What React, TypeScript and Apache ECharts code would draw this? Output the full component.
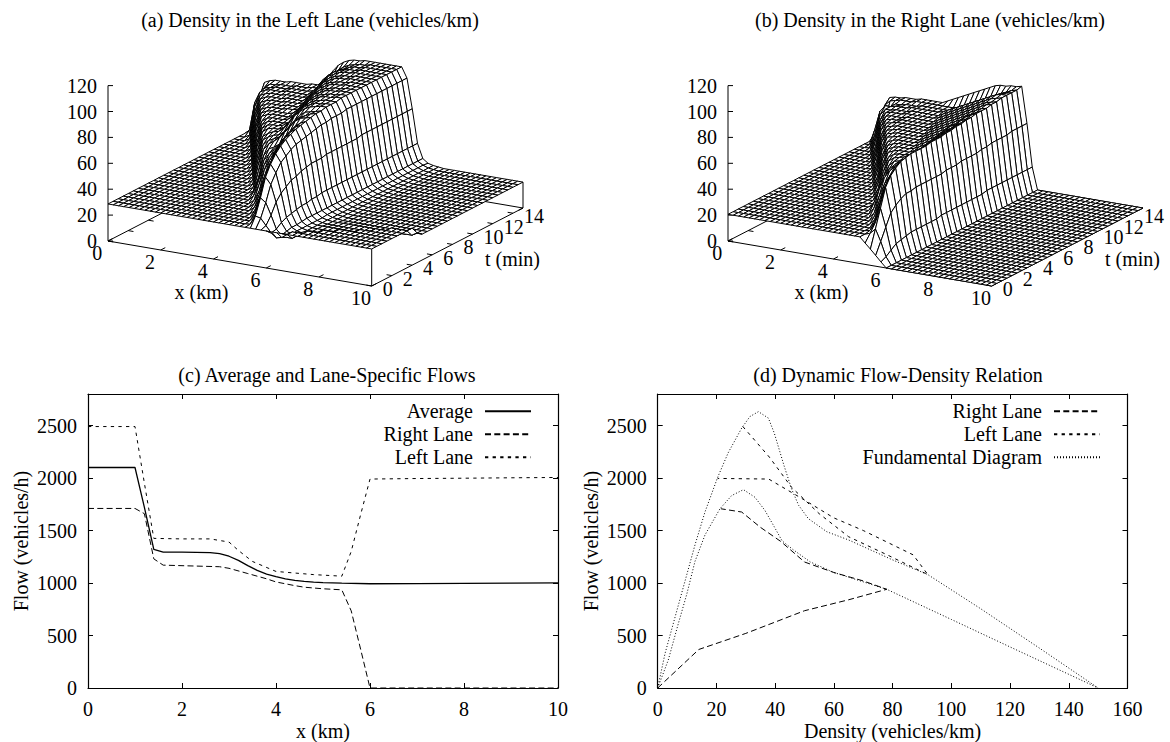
import React, { useEffect, useRef } from "react";
import * as echarts from "echarts";

const FONT = '"Liberation Serif"';

// ---------- 3D surfaces: density (vehicles/km) on x = 0..10 km (0.2 km step), t = 0..15 min (0.5 min step)
const xStep = 0.2;
const tStep = 0.5;
const xCount = 51;
const tCount = 31;
const zTicks = [0, 20, 40, 60, 80, 100, 120];
const xTicks3d = [0, 2, 4, 6, 8, 10];
const tTicks = [0, 2, 4, 6, 8, 10, 12, 14];

const leftUpstream = 28.6;
const leftDownstream = 20;
const leftEarlyStart = [51, 26, 25, 25, 24, 23, 22, 21, 20, 19];
const leftEarlyRows: number[][] = [
  [],
  [29, 36, 35, 30, 25, 22, 23, 26],
  [29, 34, 48, 45, 36, 26, 22, 21, 21, 24, 27],
  [33, 46, 62, 57, 44, 29, 23, 21.5, 21, 21, 21, 23, 26],
  [32, 42, 58, 70, 64, 49, 31, 24, 22, 21, 21, 21, 21, 21, 23, 26],
  [32, 40, 52, 66, 76, 70, 52, 32, 24, 22, 21, 21, 21, 21, 21, 21, 21, 21, 23, 26],
  [32, 40, 52, 64, 74, 80, 73, 55, 33, 24.5, 22, 21, 21, 21, 21, 21, 21, 21, 21, 21, 21, 23, 26],
  [32, 40, 52, 62, 71, 78, 83, 76, 56, 34, 25, 22, 21, 21, 21, 21, 21, 21, 21, 21, 21, 21, 21, 21, 23, 26],
  [33, 42, 54, 62, 69, 76, 82, 85, 78, 58, 34, 25, 22, 21, 20.5, 20.5, 20.5, 20.5, 20.5, 20.5, 20.5, 20.5, 20.5, 20.5, 20.5, 20.5, 20.5, 20.5, 23, 26],
  [33, 43, 55, 62, 67, 74, 80, 84, 87, 79, 59, 35, 25, 22, 21, 20.5, 20.5, 20.5, 20.5, 20.5, 20.5, 20.5, 20.5, 20.5, 20.5, 20.5, 20.5, 20.5, 20.5, 20.5, 20.5, 23],
];
const leftLateRows: number[][] = [
  [31, 42, 56, 62, 66, 71, 77, 82, 86, 88, 80, 60, 35, 25, 22.5, 21, 20.5, 20],
  [31, 44, 57, 63, 65, 68, 73, 79, 84, 87, 89, 81, 60, 36, 25, 22.5, 21, 20.5, 20],
  [31, 46, 59, 64, 67, 70, 75, 80, 85, 88, 89, 90, 82, 60, 36, 25, 22.5, 21, 20.5, 20],
  [31, 47, 60, 64, 66, 68, 72, 77, 82, 86, 88, 90, 91, 83, 61, 36, 25, 22.5, 21, 20.5, 20],
  [31, 48, 61, 64, 66, 67, 70, 75, 80, 85, 88, 89, 90, 91, 83, 61, 36, 25, 22.5, 21, 20.5, 20],
  [31, 49, 61, 64, 66, 67, 70, 75, 81, 85, 88, 90, 91, 92, 92, 84, 61, 36, 25, 22.5, 21, 20.5, 20],
  [31, 50, 62, 65, 66, 66, 68, 72, 78, 83, 87, 89, 91, 91, 92, 92, 84, 61, 36, 25, 22.5, 21, 20.5, 20],
  [31, 50, 62, 65, 66, 66, 67, 70, 75, 81, 85, 88, 90, 91, 92, 92, 92, 84, 61, 36, 25, 22.5, 21, 20.5, 20],
  [31, 51, 62, 65, 66, 66, 66, 67, 72, 78, 83, 87, 89, 91, 92, 92, 93, 93, 85, 61, 36, 25, 22.5, 21, 20.5, 20],
  [31, 51, 62, 65, 66, 66, 66, 67, 70, 75, 81, 85, 88, 90, 91, 92, 92, 93, 93, 85, 61, 36, 25, 22.5, 21, 20.5, 20],
  [31, 52, 63, 65, 66, 66, 66, 66, 68, 72, 78, 83, 87, 89, 91, 92, 92, 93, 93, 93, 85, 62, 36, 25, 22.5, 21, 20.5, 20],
  [31, 52, 63, 65, 66, 66, 66, 66, 67, 70, 75, 81, 85, 88, 90, 91, 92, 92, 93, 93, 93, 85, 62, 36, 25, 22.5, 21, 20.5, 20],
  [31, 52, 63, 65, 66, 66, 66, 67, 67, 68, 72, 78, 83, 87, 89, 91, 92, 92, 93, 93, 93, 93, 85, 62, 36, 25, 22.5, 21, 20.5, 20],
  [31, 53, 63, 65, 66, 66, 66, 67, 67, 67, 70, 75, 81, 85, 88, 90, 91, 92, 92, 93, 93, 93, 93, 85, 62, 36, 25, 22.5, 21, 20.5, 20],
  [31, 53, 63, 65, 66, 66, 66, 67, 67, 67, 68, 72, 78, 83, 87, 89, 91, 92, 92, 93, 93, 93, 93, 93, 85, 62, 36, 25, 22.5, 21, 20.5, 20],
  [31, 53, 63, 65, 66, 66, 66, 67, 67, 67, 67, 70, 75, 81, 85, 88, 90, 91, 92, 92, 93, 93, 93, 93, 93, 85, 62, 36, 25, 22.5, 21, 20.5, 20],
  [31, 54, 63, 65, 66, 66, 66, 67, 67, 67, 67, 68, 72, 78, 83, 87, 89, 91, 92, 92, 93, 93, 93, 93, 93, 93, 85, 62, 36, 25, 22.5, 21, 20.5, 20],
  [32, 54, 63, 65, 66, 66, 66, 67, 67, 67, 67, 67, 70, 75, 81, 85, 88, 90, 91, 92, 92, 93, 93, 93, 93, 93, 93, 85, 62, 36, 25, 22.5, 21, 20.5, 20],
  [36, 57, 64, 65, 66, 66, 66, 67, 67, 67, 67, 68, 68, 72, 78, 83, 87, 89, 91, 92, 92, 93, 93, 93, 93, 93, 93, 85, 62, 36, 25, 22.5, 21, 20.5, 20],
  [38, 54, 62, 65, 65, 66, 66, 66, 67, 67, 67, 68, 68, 70, 75, 81, 85, 88, 90, 91, 92, 92, 93, 93, 93, 93, 93, 93, 85, 62, 36, 25, 22.5, 21, 20.5, 20],
  [48, 63, 65, 66, 66, 66, 67, 67, 67, 67, 68, 68, 70, 75, 81, 86, 89, 91, 92, 92, 93, 93, 93, 93, 93, 93, 93, 93, 85, 62, 36, 25, 22, 21, 20.5, 20],
];

const rightUpstream = 20.6;
const rightRows: number[][] = [
  [16.5, 12.5, 8.3, 4, 0],
  [22, 26, 17, 6, 0],
  [21.5, 28, 40, 26, 9, 0],
  [26, 40, 54, 35, 12, 0],
  [25, 37, 52, 61, 39, 13, 0],
  [25, 35, 48, 58, 65, 42, 14, 0],
  [25, 35, 46, 55, 62, 68, 44, 15, 0],
  [26, 36, 46, 53, 58, 63, 69, 44, 15, 0],
  [27, 38, 48, 54, 58, 62, 66, 70, 45, 15, 0],
  [23, 31, 42, 50, 55, 59, 63, 66, 70, 45, 15, 0],
  [21, 28, 40, 50, 54, 57, 60, 63, 66, 70, 45, 15, 0],
  [21, 28, 41, 50, 54, 55, 57, 60, 63, 66, 70, 45, 15, 0],
  [21, 28, 42, 51, 54, 55, 56, 58, 61, 64, 67, 71, 45, 16, 0],
  [21, 29, 43, 51, 54, 55, 55, 56, 58, 61, 64, 67, 71, 45, 16, 0],
  [21, 29, 43, 52, 54, 55, 55, 55, 57, 59, 62, 65, 68, 71, 46, 16, 0],
  [21, 29, 44, 52, 54, 55, 55, 55, 56, 58, 60, 63, 66, 69, 72, 46, 16, 0],
  [21, 30, 44, 52, 54, 55, 55, 55, 55, 57, 59, 61, 64, 67, 70, 72, 46, 16, 0],
  [21, 30, 45, 52, 54, 55, 55, 55, 55, 56, 58, 60, 62, 65, 68, 70, 73, 47, 16, 0],
  [21, 30, 45, 53, 54, 55, 55, 55, 55, 55, 57, 59, 61, 63, 66, 68, 71, 73, 47, 16, 0],
  [21, 30, 46, 53, 54, 55, 55, 55, 55, 55, 56, 58, 60, 62, 64, 67, 69, 71, 74, 47, 16, 0],
  [21, 31, 46, 53, 54, 55, 55, 55, 55, 55, 55, 57, 59, 61, 63, 65, 67, 70, 72, 74, 47, 16, 0],
  [21, 31, 46, 53, 54, 55, 55, 55, 55, 55, 55, 56, 58, 60, 62, 64, 66, 68, 71, 73, 75, 48, 17, 0],
  [21, 31, 47, 53, 54, 55, 55, 55, 55, 55, 55, 55, 57, 59, 61, 63, 65, 67, 69, 71, 73, 75, 48, 17, 0],
  [21, 31, 47, 53, 54, 54, 55, 55, 55, 55, 55, 55, 56, 58, 60, 62, 64, 66, 68, 70, 72, 74, 75, 49, 17, 0],
  [21, 32, 47, 53, 54, 54, 54, 55, 55, 55, 55, 55, 55, 57, 59, 61, 63, 65, 67, 69, 71, 73, 75, 76, 49, 17, 0],
  [21, 32, 47, 53, 54, 54, 54, 55, 55, 55, 55, 55, 55, 56, 58, 60, 62, 64, 66, 68, 70, 72, 74, 75, 76, 49, 17, 0],
  [21, 32, 48, 53, 53, 54, 54, 54, 55, 55, 55, 55, 55, 55, 57, 59, 61, 63, 65, 67, 69, 71, 73, 75, 76, 77, 49, 17, 0],
  [21, 33, 48, 53, 53, 54, 54, 54, 55, 55, 55, 55, 55, 55, 56, 58, 60, 62, 64, 66, 68, 70, 72, 74, 76, 77, 77, 50, 17, 0],
  [21, 38, 50, 53, 53, 54, 54, 54, 55, 55, 55, 55, 55, 55, 57, 59, 61, 63, 65, 67, 69, 71, 73, 75, 76, 77, 50, 17, 0],
  [24, 36, 48, 52, 53, 54, 54, 54, 55, 55, 55, 55, 55, 55, 55, 55, 56, 58, 60, 62, 64, 66, 68, 70, 72, 74, 76, 77, 50, 17, 0],
  [30, 44, 52, 53, 53, 54, 54, 54, 55, 55, 55, 55, 55, 57, 59, 61, 63, 65, 67, 69, 71, 73, 75, 76, 76, 77, 77, 78, 50, 17, 0],
];

// ---------- (c) flows along the road
const avgX = [0, 1, 1.2, 1.4, 1.6, 2, 2.6, 2.8, 3, 3.2, 3.4, 3.6, 3.8, 4, 4.2, 4.4, 4.6, 4.8, 5, 5.4, 6, 7, 8, 9, 10];
const avgFlow = [2100, 2100, 1720, 1320, 1295, 1295, 1290, 1280, 1255, 1215, 1165, 1120, 1085, 1060, 1040, 1025, 1015, 1008, 1003, 998, 993, 995, 997, 999, 1001];
const rightX = [0, 1, 1.2, 1.4, 1.6, 2.8, 3, 3.4, 3.8, 4, 4.4, 4.6, 5, 5.4, 5.6, 5.8, 6, 7, 8, 9, 10];
const rightFlow = [1710, 1710, 1660, 1230, 1170, 1155, 1140, 1090, 1040, 1010, 975, 960, 945, 935, 735, 370, 0, 0, 0, 0, 0];
const leftX = [0, 1, 1.2, 1.4, 2, 2.6, 2.8, 3, 3.2, 3.5, 4, 4.4, 4.8, 5.4, 5.6, 5.8, 6, 7, 8, 9, 10];
const leftFlow = [2490, 2490, 1950, 1425, 1420, 1420, 1405, 1390, 1310, 1205, 1110, 1095, 1080, 1065, 1300, 1650, 1990, 1995, 1998, 2002, 2005];

// ---------- (d) flow-density relation
const dynRightDensity = [0, 14, 30, 50, 65, 78, 70, 60, 50, 42, 35, 28.6, 21.5];
const dynRightFlow = [0, 367, 520, 736, 840, 940, 1020, 1100, 1200, 1394, 1530, 1676, 1707];
const dynLeftDensity = [29, 38, 45.6, 55, 65, 78, 92, 87, 70, 60, 50, 37.8, 20.4];
const dynLeftFlow = [2490, 2200, 1911, 1660, 1441, 1270, 1080, 1268, 1500, 1620, 1790, 1990, 1996];
const fdUpperDensity = [0, 2.5, 5.9, 9.3, 12.7, 16.1, 20.4, 24, 28.6, 31.4, 34.3, 37.7, 39.7, 43, 45.6, 48, 51.3, 57.6, 65, 80, 92, 110, 130, 150];
const fdUpperFlow = [0, 329, 674, 1018, 1363, 1676, 2005, 2240, 2475, 2585, 2632, 2570, 2428, 2120, 1895, 1740, 1613, 1488, 1410, 1220, 1080, 755, 380, 0];
const fdLowerDensity = [0, 3.6, 7, 9.9, 12.7, 16.1, 21.2, 25.2, 29.2, 33.1, 36.5, 39.7, 42.4, 46, 52, 60, 78, 100, 120, 150];
const fdLowerFlow = [0, 266, 611, 893, 1206, 1457, 1707, 1833, 1889, 1817, 1692, 1535, 1400, 1320, 1200, 1100, 940, 653, 391, 0];

const flowTicks = [0, 500, 1000, 1500, 2000, 2500];

function buildLeftMatrix(): number[][] {
  const out: number[][] = [];
  for (let j = 0; j < tCount; j++) {
    const early = j < leftEarlyRows.length;
    const vals = early ? leftEarlyRows[j] : leftLateRows[j - leftEarlyRows.length];
    const start = early ? leftEarlyStart[j] : 36 - vals.length;
    const tail = early ? leftUpstream : leftDownstream;
    const row: number[] = [];
    for (let i = 0; i < xCount; i++) {
      if (i < start) row.push(leftUpstream);
      else if (i - start < vals.length) row.push(vals[i - start]);
      else row.push(tail);
    }
    out.push(row);
  }
  return out;
}
function buildRightMatrix(): number[][] {
  return rightRows.map((vals) => {
    const start = 31 - vals.length;
    const row: number[] = [];
    for (let i = 0; i < xCount; i++) {
      if (i < start) row.push(rightUpstream);
      else if (i - start < vals.length) row.push(vals[i - start]);
      else row.push(0);
    }
    return row;
  });
}

// oblique view used by the gnuplot-like panels; result is in units of the hidden axes
const project = (x: number, t: number, z: number) => [26.37 * x + 10.087 * t, -4.5 * x + 5.2 * t + 1.295 * z];

const T_MAX = 15;
const X_MAX = 10;
const AX_W = 416;
const V_MIN = -45;
const V_MAX = 156;

function surfaceSeries(Z: number[][], gridIndex: number) {
  const cells: number[][] = [];
  for (let j = tCount - 2; j >= 0; j--) for (let i = 0; i < xCount - 1; i++) cells.push([i, j]);
  return {
    type: "custom",
    xAxisIndex: gridIndex,
    yAxisIndex: gridIndex,
    data: cells,
    silent: true,
    z: 3,
    progressive: 0,
    renderItem: (_p: any, api: any) => {
      const i = api.value(0);
      const j = api.value(1);
      const corners = [[i, j], [i + 1, j], [i + 1, j + 1], [i, j + 1]];
      const points = corners.map(([a, b]) => api.coord(project(a * xStep, b * tStep, Z[b][a])));
      return { type: "polygon", shape: { points }, style: { fill: "#fff", stroke: "#000", lineWidth: 1 } };
    },
  };
}

function frameSeries(Z: number[][], gridIndex: number) {
  const last = xCount - 1;
  const lastT = tCount - 1;
  return {
    type: "custom",
    xAxisIndex: gridIndex,
    yAxisIndex: gridIndex,
    data: [[0, 0]],
    silent: true,
    z: 2,
    renderItem: (_p: any, api: any) => {
      const P = (x: number, t: number, z: number) => api.coord(project(x, t, z));
      const line = (a: number[], b: number[], w = 1) => ({
        type: "line",
        shape: { x1: a[0], y1: a[1], x2: b[0], y2: b[1] },
        style: { stroke: "#000", lineWidth: w },
      });
      const text = (s: string, p: number[], align: string, size = 20) => ({
        type: "text",
        style: { text: s, x: p[0], y: p[1], textAlign: align, textVerticalAlign: "middle", font: `${size}px ${FONT}`, fill: "#000" },
      });
      const kids: any[] = [
        line(P(0, 0, 0), P(X_MAX, 0, 0)),
        line(P(X_MAX, 0, 0), P(X_MAX, T_MAX, 0)),
        line(P(X_MAX, T_MAX, 0), P(0, T_MAX, 0)),
        line(P(0, T_MAX, 0), P(0, 0, 0)),
        line(P(0, 0, 0), P(0, 0, 120)),
        line(P(X_MAX, 0, 0), P(X_MAX, 0, Z[0][last])),
        line(P(X_MAX, T_MAX, 0), P(X_MAX, T_MAX, Z[lastT][last])),
      ];
      zTicks.forEach((z) => {
        const p = P(0, 0, z);
        kids.push(line(p, [p[0] + 5, p[1]]));
        kids.push(text(String(z), [p[0] - 11, p[1]], "right"));
      });
      xTicks3d.forEach((x) => {
        const p = P(x, 0, 0);
        kids.push(line(p, P(x, 0.45, 0)));
        kids.push(line(P(x, T_MAX, 0), P(x, T_MAX - 0.45, 0)));
        kids.push(text(String(x), [p[0] - 10.7, p[1] + 12], "center"));
      });
      tTicks.forEach((t) => {
        const p = P(X_MAX, t, 0);
        kids.push(line(p, P(X_MAX - 0.2, t, 0)));
        kids.push(line(P(0, t, 0), P(0.2, t, 0)));
        kids.push(text(String(t), [p[0] + 11, p[1] + 3], "left"));
      });
      const o = P(0, 0, 0);
      kids.push(text("x (km)", [o[0] + 93.5, o[1] + 50.7], "center"));
      kids.push(text("t (min)", [o[0] + 404.5, o[1] + 18], "center"));
      return { type: "group", children: kids };
    },
  };
}

const hiddenX = (gridIndex: number) => ({ type: "value", gridIndex, min: 0, max: AX_W, show: false });
const hiddenY = (gridIndex: number) => ({ type: "value", gridIndex, min: V_MIN, max: V_MAX, show: false });

const axisLine = { lineStyle: { color: "#000", width: 1.2 } };
const labelStyle = { color: "#000", fontFamily: FONT, fontSize: 20, formatter: (v: number) => String(v) };
const nameStyle = { color: "#000", fontFamily: FONT, fontSize: 20 };

function flowAxes(gridIndex: number, xMax: number, xInterval: number, xName: string) {
  const xBase = {
    type: "value",
    gridIndex,
    min: 0,
    max: xMax,
    interval: xInterval,
    splitLine: { show: false },
    axisLine: { ...axisLine, onZero: false },
    axisTick: { show: true, inside: true, length: 5, lineStyle: { color: "#000" } },
  };
  const yBase = {
    type: "value",
    gridIndex,
    min: 0,
    max: 2800,
    splitLine: { show: false },
    axisLine: { ...axisLine, onZero: false, show: true },
    axisTick: { show: true, inside: true, length: 5, customValues: flowTicks, lineStyle: { color: "#000" } },
  };
  return {
    x: [
      { ...xBase, position: "bottom", axisLabel: { ...labelStyle, margin: 11 }, name: xName, nameLocation: "middle", nameGap: 33, nameTextStyle: nameStyle },
      { ...xBase, position: "top", axisLabel: { show: false } },
    ],
    y: [
      { ...yBase, position: "left", axisLabel: { ...labelStyle, margin: 11, customValues: flowTicks }, name: "Flow (vehicles/h)", nameLocation: "middle", nameGap: 57, nameTextStyle: nameStyle },
      { ...yBase, position: "right", axisLabel: { show: false } },
    ],
  };
}

const pairs = (a: number[], b: number[]) => a.map((v, i) => [v, b[i]]);
const lineSeries = (name: string, a: number[], b: number[], xAxisIndex: number, yAxisIndex: number, type: any, width = 1) => ({
  type: "line",
  name,
  data: pairs(a, b),
  xAxisIndex,
  yAxisIndex,
  showSymbol: false,
  symbol: "none",
  clip: true,
  lineStyle: { color: "#000", width, type },
  itemStyle: { color: "#000" },
});

const DASH_LONG = [6, 3.3];
const DASH_SHORT = [3.3, 4.3];
const DOT = [1, 2];

const titleAt = (text: string, left: number, top: number) => ({
  text,
  left,
  top,
  textAlign: "center",
  textStyle: { color: "#000", fontFamily: FONT, fontSize: 20, fontWeight: "normal" },
});

const legendAt = (data: string[], right: number) => ({
  data,
  orient: "vertical",
  align: "right",
  right,
  top: 401.2,
  padding: 0,
  itemWidth: 46,
  itemHeight: 16,
  itemGap: 3,
  selectedMode: false,
  itemStyle: { opacity: 0 },
  textStyle: { color: "#000", fontFamily: FONT, fontSize: 20, lineHeight: 16, padding: [0, 7, 0, 0] },
});

export default function App() {
  const ref = useRef<HTMLDivElement>(null);
  useEffect(() => {
    if (!ref.current) return;
    const chart = echarts.init(ref.current, null, { renderer: "svg" });
    const Za = buildLeftMatrix();
    const Zb = buildRightMatrix();
    const c = flowAxes(2, 10, 2, "x (km)");
    const d = flowAxes(3, 160, 20, "Density (vehicles/km)");
    // axis indices: 0,1 hidden panels; 2,3 panel c; 4,5 panel d
    const axX = [hiddenX(0), hiddenX(1), ...c.x, ...d.x];
    const axY = [hiddenY(0), hiddenY(1), ...c.y, ...d.y];
    chart.setOption({
      animation: false,
      backgroundColor: "#fff",
      title: [
        titleAt("(a) Density in the Left Lane (vehicles/km)", 305, 4.5),
        titleAt("(b) Density in the Right Lane (vehicles/km)", 925, 4.5),
        titleAt("(c) Average and Lane-Specific Flows", 322, 360),
        titleAt("(d) Dynamic Flow-Density Relation", 893, 360),
      ],
      legend: [
        legendAt(["Average", "Right Lane", "Left Lane"], 638),
        legendAt(["Right Lane", "Left Lane", "Fundamental Diagram"], 69),
      ],
      grid: [
        { left: 108, top: 241 - V_MAX, width: AX_W, height: V_MAX - V_MIN },
        { left: 728, top: 241 - V_MAX, width: AX_W, height: V_MAX - V_MIN },
        { left: 88, top: 394, width: 470, height: 297.7 },
        { left: 657.7, top: 394, width: 469.8, height: 297.7 },
      ],
      xAxis: axX,
      yAxis: axY,
      series: [
        frameSeries(Za, 0),
        surfaceSeries(Za, 0),
        frameSeries(Zb, 1),
        surfaceSeries(Zb, 1),
        lineSeries("Average", avgX, avgFlow, 2, 2, "solid", 1.3),
        lineSeries("Right Lane", rightX, rightFlow, 2, 2, DASH_LONG),
        lineSeries("Left Lane", leftX, leftFlow, 2, 2, DASH_SHORT),
        lineSeries("Right Lane", dynRightDensity, dynRightFlow, 4, 4, DASH_LONG),
        lineSeries("Left Lane", dynLeftDensity, dynLeftFlow, 4, 4, DASH_SHORT),
        lineSeries("Fundamental Diagram", fdUpperDensity, fdUpperFlow, 4, 4, DOT),
        lineSeries("Fundamental Diagram", fdLowerDensity, fdLowerFlow, 4, 4, DOT),
      ],
    });
    return () => chart.dispose();
  }, []);
  return <div ref={ref} style={{ position: "absolute", left: 0, top: 0, width: 1170, height: 742 }} />;
}
